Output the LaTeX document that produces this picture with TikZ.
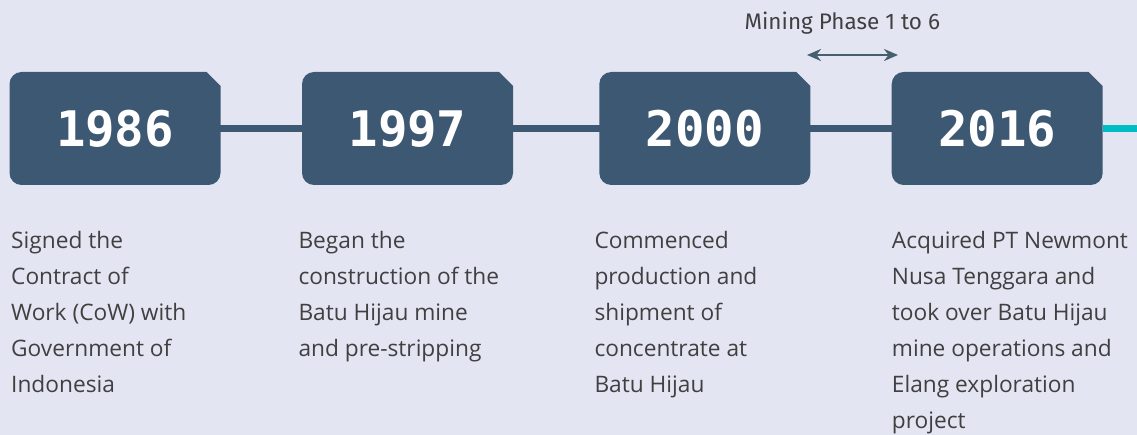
\documentclass[tikz,border=0pt]{standalone}
\usepackage{fontspec}
\usetikzlibrary{arrows.meta}
\newfontfamily\descfont{Open Sans}
\newfontfamily\phasefont{Fira Sans}
\newfontfamily\yearfont{DejaVu Sans Mono}

\definecolor{bgc}{HTML}{E4E5F3}
\definecolor{boxc}{HTML}{3D5873}
\definecolor{txtc}{HTML}{404040}
\definecolor{arrowc}{HTML}{45606C}
\definecolor{tealc}{HTML}{00BCC3}

% year card: rounded corners, top-right corner cut off
% #1 node name, #2 left x, #3 year
\newcommand\yearcard[3]{%
  \fill[boxc] (#2,-173) -- (#2,-84)
    arc[start angle=180,end angle=90,radius=12pt] -- (#2+197,-72)
    -- (#2+211,-86) -- (#2+211,-173)
    arc[start angle=0,end angle=-90,radius=12pt] -- (#2+12,-185)
    arc[start angle=270,end angle=180,radius=12pt] -- cycle;
  \node[yearbox] (#1) at (#2+105.5,-128.5) {\raisebox{-2pt}{#3}};
}

\begin{document}
\begin{tikzpicture}[x=1pt,y=1pt,
  yearbox/.style={minimum width=211pt,minimum height=113pt,inner sep=0pt,
    text=white,font=\yearfont\bfseries\fontsize{49}{49}\selectfont},
  desc/.style={anchor=north west,inner sep=0pt,align=left,text=txtc,
    font=\descfont\fontsize{22.7}{36}\selectfont},
  timeline/.style={draw=boxc,line width=7.5pt},
  tealline/.style={draw=tealc,line width=7.5pt},
  phasearrow/.style={draw=arrowc,line width=2.8pt,
    {Stealth[length=14pt,width=12pt]}-{Stealth[length=14pt,width=12pt]}}
]
\fill[bgc] (0,0) rectangle (1137,-435);
\useasboundingbox (0,0) rectangle (1137,-435);

% connectors sit behind the cards
\coordinate (c1) at (220,-128.5);
\coordinate (c2) at (303,-128.5);
\coordinate (c3) at (512,-128.5);
\coordinate (c4) at (600,-128.5);
\coordinate (c5) at (809,-128.5);
\coordinate (c6) at (892,-128.5);
\draw[timeline] (c1) -- (c2);
\draw[timeline] (c3) -- (c4);
\draw[timeline] (c5) -- (c6);

\yearcard{y1986}{9.5}{1986}
\yearcard{y1997}{302}{1997}
\yearcard{y2000}{599.3}{2000}
\yearcard{y2016}{891.7}{2016}

\coordinate (tealend) at (1137,-128.5);
\draw[tealline] (y2016.east) -- (tealend);

% mining phase marker
\node[anchor=base,inner sep=0pt,text=txtc,
  font=\phasefont\fontsize{22.5}{26}\selectfont] (phase) at (842.3,-30) {Mining Phase 1 to 6};
\coordinate (pa) at (807,-55);
\coordinate (pb) at (898,-55);
\draw[phasearrow] (pa) -- (pb);

% descriptions
\node[desc] (d1) at (11,-231.5) {Signed the\\Contract of\\Work (CoW) with\\Government of\\Indonesia};
\node[desc] (d2) at (298.3,-231.5) {Began the\\construction of the\\Batu Hijau mine\\and pre-stripping};
\node[desc] (d3) at (594.3,-231.5) {Commenced\\production and\\shipment of\\concentrate at\\Batu Hijau};
\node[desc] (d4) at (891.7,-231.5) {Acquired PT Newmont\\Nusa Tenggara and\\took over Batu Hijau\\mine operations and\\Elang exploration\\project};
\end{tikzpicture}
\end{document}
